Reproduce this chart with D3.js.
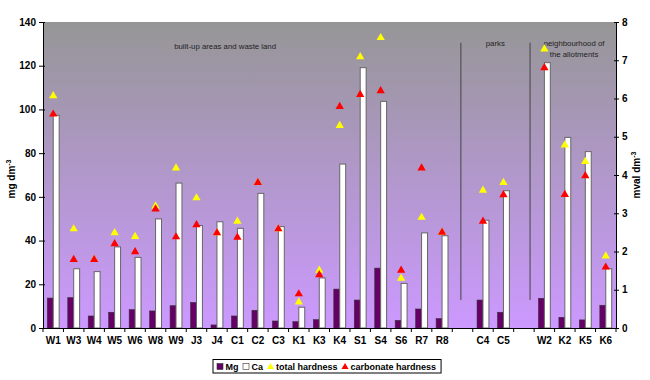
<!DOCTYPE html>
<html><head><meta charset="utf-8">
<script src="https://cdn.jsdelivr.net/npm/d3@7"></script>
<style>body{margin:0;background:#fff}svg{display:block;font-family:"Liberation Sans",Arial,sans-serif}</style>
</head><body><svg id="c" width="650" height="380"></svg>
<script>
const categories = ["W1","W3","W4","W5","W6","W8","W9","J3","J4","C1","C2","C3","K1","K3","K4","S1","S4","S6","R7","R8",null,"C4","C5",null,"W2","K2","K5","K6"];
const mg  = [13.7,13.9,5.5,7.2,8.4,7.8,10.2,11.7,1.4,5.5,8.1,3.2,2.9,3.8,17.8,12.8,27.4,3.5,8.7,4.3,null,12.8,7.2,null,13.6,4.9,3.7,10.4];
const ca  = [97.3,27.1,25.8,37.1,32.3,49.9,66.3,46.9,48.6,45.6,61.6,46.4,9.5,22.9,75.0,119.1,103.7,20.4,43.5,42.2,null,49.3,62.8,null,121.4,87.2,80.7,27.1];
const totalHardness = [6.07,2.59,1.79,2.49,2.39,3.19,4.18,3.4,2.49,2.79,3.8,2.59,0.68,1.51,5.29,7.09,7.59,1.3,2.89,2.5,null,3.6,3.8,null,7.29,4.78,4.35,1.88];
const carbonateHardness = [5.59,1.79,1.79,2.2,1.99,3.11,2.38,2.7,2.49,2.37,3.8,2.59,0.89,1.39,5.79,6.1,6.2,1.51,4.18,2.5,null,2.79,3.48,null,6.8,3.49,3.98,1.59];
const leftTicks = [0,20,40,60,80,100,120,140];
const rightTicks = [0,1,2,3,4,5,6,7,8];
const regions = [
  {lines:["built-up areas and waste land"], at:8.9, y:49},
  {lines:["parks"], at:22.1, y:46},
  {lines:["neighbourhood of","the allotments"], at:25.95, y:46}
];
const separators = [20.42, 23.8];

const svg = d3.select("#c");
const L=43, R=616, T=22, B=328;
const x = d3.scaleBand().domain(d3.range(categories.length)).range([L,R]).paddingInner(0).paddingOuter(0);
const xs = d3.scaleLinear().domain([0,categories.length]).range([L,R]);
const yL = d3.scaleLinear().domain([0,140]).range([B,T]);
const yR = d3.scaleLinear().domain([0,8]).range([B,T]);

const defs = svg.append("defs");
const g = defs.append("linearGradient").attr("id","bg").attr("x1",0).attr("y1",0).attr("x2",0).attr("y2",1);
g.append("stop").attr("offset","0%").attr("stop-color","#969696");
g.append("stop").attr("offset","100%").attr("stop-color","#cc99ff");
svg.append("rect").attr("x",L).attr("y",T).attr("width",R-L).attr("height",B-T).attr("fill","url(#bg)");

svg.selectAll(".sep").data(separators).join("line")
  .attr("x1",d=>xs(d)).attr("x2",d=>xs(d)).attr("y1",yL(130.5)).attr("y2",yL(12.8))
  .attr("stroke","#444").attr("stroke-width",1);

regions.forEach(r=>{
  const t = svg.append("text").attr("text-anchor","middle").attr("font-size",7.8).attr("fill","#222");
  r.lines.forEach((ln,i)=>t.append("tspan").attr("x",xs(r.at)).attr("y",r.y+i*10.5).text(ln));
});

const idx = d3.range(categories.length).filter(i=>categories[i]!==null);
const bw = x.bandwidth()*0.29;
const cx = i=>x(i)+x.bandwidth()/2;

svg.selectAll(".mg").data(idx).join("rect")
  .attr("x",i=>cx(i)-bw).attr("width",bw)
  .attr("y",i=>yL(mg[i])).attr("height",i=>yL(0)-yL(mg[i]))
  .attr("fill","#660066").attr("stroke","#333").attr("stroke-width",0.6);
svg.selectAll(".ca").data(idx).join("rect")
  .attr("x",i=>cx(i)).attr("width",bw)
  .attr("y",i=>yL(ca[i])).attr("height",i=>yL(0)-yL(ca[i]))
  .attr("fill","#ffffff").attr("stroke","#666").attr("stroke-width",1);

const tri = d3.symbol().type(d3.symbolTriangle).size(30);
svg.selectAll(".th").data(idx).join("path")
  .attr("d",tri).attr("transform",i=>`translate(${cx(i)},${yR(totalHardness[i])})`).attr("fill","#ffff00");
svg.selectAll(".ch").data(idx).join("path")
  .attr("d",tri).attr("transform",i=>`translate(${cx(i)},${yR(carbonateHardness[i])})`).attr("fill","#ff0000");

const ax = svg.append("g").attr("transform",`translate(${L},0)`)
  .call(d3.axisLeft(yL).tickValues(leftTicks).tickSize(4).tickSizeOuter(0).tickPadding(3));
ax.selectAll(".tick line").attr("x1",2);
const ar = svg.append("g").attr("transform",`translate(${R},0)`)
  .call(d3.axisRight(yR).tickValues(rightTicks).tickSize(3).tickSizeOuter(0).tickPadding(3));
ar.selectAll(".tick line").attr("x1",-2);
[ax,ar].forEach(a=>{
  a.select(".domain").attr("stroke","#000");
  a.selectAll("text").attr("font-size",10).attr("font-weight","bold").attr("fill","#000").style("font-family","Liberation Sans, Arial, sans-serif");
});

const xa = svg.append("g").attr("transform",`translate(0,${B})`)
  .call(d3.axisBottom(x).tickFormat(i=>categories[i]||"").tickSize(0).tickPadding(9));
xa.select(".domain").attr("stroke","#000");
xa.selectAll("text").attr("font-size",10).attr("font-weight","bold").attr("fill","#000").style("font-family","Liberation Sans, Arial, sans-serif");
xa.selectAll(".bt").data(d3.range(categories.length+1)).join("line")
  .attr("x1",d=>xs(d)).attr("x2",d=>xs(d)).attr("y1",0).attr("y2",4).attr("stroke","#000");

const t1 = svg.append("text").attr("transform",`translate(15,${(T+B)/2+4}) rotate(-90)`)
  .attr("text-anchor","middle").attr("font-size",10).attr("font-weight","bold");
t1.append("tspan").text("mg dm");
t1.append("tspan").attr("font-size",7).attr("dy",-4).text("-3");
const t2 = svg.append("text").attr("transform",`translate(640,${(T+B)/2}) rotate(-90)`)
  .attr("text-anchor","middle").attr("font-size",10).attr("font-weight","bold");
t2.append("tspan").text("mval dm");
t2.append("tspan").attr("font-size",7).attr("dy",-4).text("-3");

// legend
const legendItems = [
  {label:"Mg", kind:"sq", fill:"#660066"},
  {label:"Ca", kind:"sq", fill:"#ffffff"},
  {label:"total hardness", kind:"tri", fill:"#ffff00"},
  {label:"carbonate hardness", kind:"tri", fill:"#ff0000"}
];
const lg = svg.append("g");
const box = lg.append("rect").attr("y",359.5).attr("height",13.5)
  .attr("fill","#fff").attr("stroke","#000").attr("stroke-width",1);
const ly = 366.5;
let cur = 217;
legendItems.forEach(it=>{
  if(it.kind==="sq"){
    lg.append("rect").attr("x",cur).attr("y",ly-3).attr("width",6).attr("height",6).attr("fill",it.fill).attr("stroke","#333").attr("stroke-width",0.6);
  } else {
    lg.append("path").attr("d",d3.symbol().type(d3.symbolTriangle).size(22)).attr("transform",`translate(${cur+3},${ly+0.5})`).attr("fill",it.fill);
  }
  const tx = lg.append("text").attr("x",cur+8.5).attr("y",ly+3.3).attr("font-size",9).attr("font-weight","bold").text(it.label);
  cur = cur + 8.5 + tx.node().getComputedTextLength() + 4.5;
});
box.attr("x",213).attr("width",cur-213+0.5);
</script></body></html>
